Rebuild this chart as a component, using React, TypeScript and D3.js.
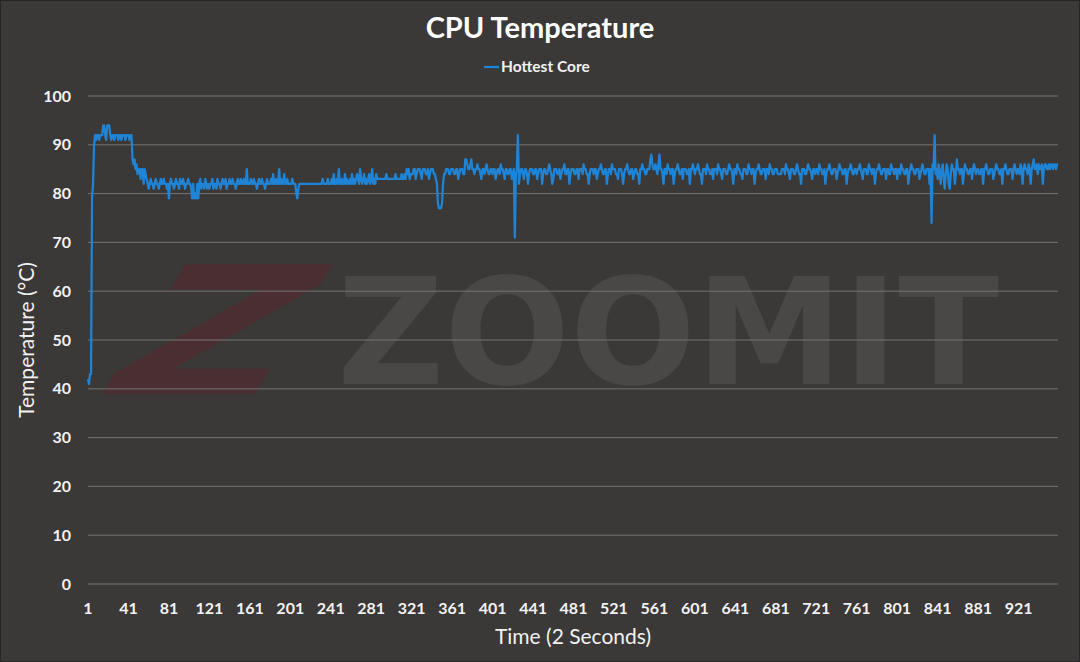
import React from "react";
import * as d3 from "d3";

// ---- Data (1 sample = 2 seconds) ----
const warmUp: number[] = [
  42,41,43,43,79,82,90,92,91,92, 92,91,92,92,92,94,94,92,91,94, 94,94,92,91,92,92,91,92,92,92, 91,92,92,91,92,92,92,91,92,92,
  92,91,92,92,87,86,87,85,86,84, 85,85,83,85,85,82,85,84,83,82, 81,82,83,82,82,81,82,83,82,82, 81,82,83,82,82,83,82,82,81,82,
];
const settle: number[] = [
  79,82,83,82,82,81,82,83,82,82, 81,83,82,82,83,82,81,82,82,83, 82,82,81,79,82,79,80,79,82,79, 82,83,81,82,82,81,83,82,81,82,
  81,82,82,83,81,82,82,81,83,82, 82,81,82,83,82,82,83,81,82,82, 83,82,82,83,82,82,81,82,83,82, 82,83,82,82,83,82,82,85,82,82,
  82,83,82,82,83,82,82,81,82,83, 82,82,83,82,82,81,82,83,82,82, 82,83,82,84,82,82,83,82,82,85, 82,83,82,82,84,82,82,83,82,82,
  82,82,83,82,82,82,80,79,81,82, 82,82,82,82,82,82,82,82,82,82, 82,82,82,82,82,82,82,82,82,82, 82,82,83,82,82,82,82,83,82,82,
  82,83,82,84,82,82,83,82,85,82, 82,83,82,82,84,82,83,82,82,83, 82,84,82,83,82,83,84,83,82,85, 83,82,83,84,82,83,82,83,84,82,
  83,85,82,83,82,84,83,83,83,83, 83,83,83,83,83,84,83,83,83,83, 83,83,83,83,84,83,83,83,83,83, 84,83,83,84,83,85,84,85,83,84,
];
const midLoad: number[] = [
  84,84,85,85,83,84,85,85,85,84, 83,85,85,85,84,84,85,83,84,85, 85,85,84,84,83,82,78,77,77,77, 78,82,84,84,85,85,85,84,84,85,
  85,85,84,84,85,85,83,84,85,85, 85,84,84,87,87,86,85,85,86,87, 85,85,84,85,85,86,85,85,84,83, 85,85,84,85,86,85,84,84,85,85,
  84,85,85,83,84,85,85,84,86,85, 85,84,83,85,85,84,84,85,85,83, 84,85,71,84,85,92,82,84,85,85, 84,83,85,85,84,82,84,85,85,85,
  84,84,85,85,83,84,85,85,85,82, 84,85,85,84,84,85,86,85,84,82, 83,85,85,85,84,84,85,83,84,85, 85,86,84,84,85,85,82,84,85,85,
  85,84,84,85,85,83,85,85,85,84, 86,85,85,84,84,82,84,85,85,85, 84,85,85,83,84,85,85,86,85,84, 84,85,85,82,84,85,85,84,86,85,
  85,85,84,84,83,85,85,85,84,82, 84,85,85,86,85,84,84,85,85,83, 84,85,85,84,84,82,85,85,86,85, 85,84,84,85,85,85,87,88,86,85,
  85,86,85,84,86,88,85,85,84,82, 85,85,84,86,85,85,84,85,85,82, 84,85,85,86,85,84,84,85,83,85, 85,85,84,84,85,82,85,85,86,85,
];
const lateLoad: number[] = [
  84,85,85,86,85,84,84,82,85,85, 85,84,86,85,85,84,84,85,83,85, 85,85,84,86,85,85,84,83,85,85, 85,84,84,85,86,85,85,84,82,85,
  85,84,86,85,85,84,84,83,85,85, 85,84,84,86,85,85,84,85,85,82, 84,85,85,86,85,84,84,85,85,85, 83,85,85,84,86,85,85,84,84,85,
  85,85,84,84,84,84,85,85,85,84, 86,85,85,84,83,85,85,85,84,84, 85,86,85,84,84,82,85,85,85,84, 84,85,86,85,85,84,83,85,85,84,
  85,85,84,86,85,85,84,84,85,82, 84,85,85,86,85,84,84,85,85,85, 83,84,85,86,85,85,84,84,85,85, 82,84,85,85,86,85,84,84,85,85,
  84,85,85,86,85,84,83,85,85,85, 84,84,86,85,85,84,85,85,82,84, 85,85,86,85,84,84,85,85,85,83, 85,85,84,84,86,85,85,84,85,85,
  83,85,85,84,86,85,85,84,84,85, 85,82,84,85,86,85,85,84,84,85, 85,85,83,84,85,86,85,84,84,85, 85,85,82,85,74,86,85,92,84,85,
  83,86,84,82,85,86,83,81,84,86, 85,82,81,84,86,85,85,82,84,87, 85,85,84,85,85,82,84,86,85,85, 84,84,85,85,83,85,86,85,84,85,
  85,84,84,85,85,82,85,85,86,85, 84,84,85,85,85,83,84,85,86,85, 85,84,84,85,82,85,85,86,85,84, 84,85,85,85,83,85,86,85,84,85,
  85,84,86,85,82,85,86,85,85,84, 86,85,82,85,86,87,85,85,86,84, 86,85,85,86,82,85,86,86,85,85, 86,85,86,86,85,86,86,85,86,86,
];
const hottestCore: number[] = [...warmUp, ...settle, ...midLoad, ...lateLoad];
const yTicks: number[] = [0, 10, 20, 30, 40, 50, 60, 70, 80, 90, 100];
const xTickStep = 40;
const titleText = "CPU Temperature";
const seriesName = "Hottest Core";
const xTitle = "Time (2 Seconds)";
const yTitle = "Temperature (°C)";

const W = 1080;
const H = 662;
const BG = "#3b3838";
const FONT = "Lato, 'Open Sans', sans-serif";
const LINE = "#1f84d6";

export default function App() {
  const n = hottestCore.length;
  const x = d3.scaleLinear().domain([1, n]).range([88, 1058]);
  const y = d3.scaleLinear().domain([0, 100]).range([584, 96]);
  const xTicks = d3.range(1, n + 1, xTickStep);
  const path = d3
    .line<number>()
    .x((_, i) => x(i + 1))
    .y((d) => y(d))(hottestCore) as string;

  return (
    <svg
      width={W}
      height={H}
      style={{ position: "absolute", left: 0, top: 0, display: "block" }}
      xmlns="http://www.w3.org/2000/svg"
    >
      <rect x={0} y={0} width={W} height={H} fill={BG} />
      <rect x={0.5} y={0.5} width={W - 1} height={H - 1} fill="none" stroke="#262424" strokeWidth={1} />

      {/* watermark */}
      <text
        transform="translate(178,394) skewX(-32) scale(1.35,1)"
        textAnchor="middle"
        fontFamily="'DejaVu Sans', sans-serif"
        fontWeight="bold"
        fontSize={178}
        fill="#4b2e32"
      >
        Z
      </text>
      <text
        x={668}
        y={384}
        textAnchor="middle"
        fontFamily="'DejaVu Sans', sans-serif"
        fontWeight="bold"
        fontSize={148}
        fill="#4a4747"
      >
        ZOOMIT
      </text>

      {/* grid */}
      {yTicks.map((t) => (
        <line key={t} x1={88} x2={1058} y1={y(t)} y2={y(t)} stroke="#767373" strokeWidth={1} />
      ))}

      {/* y tick labels */}
      {yTicks.map((t) => (
        <text
          key={"yl" + t}
          x={71}
          y={y(t)}
          dy="0.35em"
          textAnchor="end"
          fontFamily={FONT}
          fontWeight="bold"
          fontSize={16}
          fill="#f2f2f2"
        >
          {t}
        </text>
      ))}

      {/* x tick labels */}
      {xTicks.map((t) => (
        <text
          key={"xl" + t}
          x={x(t)}
          y={614}
          textAnchor="middle"
          fontFamily={FONT}
          fontWeight="bold"
          fontSize={16}
          fill="#f2f2f2"
        >
          {t}
        </text>
      ))}

      {/* series */}
      <path d={path} fill="none" stroke={LINE} strokeWidth={2.25} strokeLinejoin="round" />

      {/* title */}
      <text x={540} y={38} textAnchor="middle" fontFamily={FONT} fontWeight="bold" fontSize={29} fill="#ffffff">
        {titleText}
      </text>

      {/* legend */}
      <line x1={484} x2={499} y1={67} y2={67} stroke={LINE} strokeWidth={2.25} />
      <text x={501} y={72} fontFamily={FONT} fontWeight="bold" fontSize={15.5} fill="#f2f2f2">
        {seriesName}
      </text>

      {/* axis titles */}
      <text x={573} y={644} textAnchor="middle" fontFamily={FONT} fontSize={21} fill="#f2f2f2">
        {xTitle}
      </text>
      <text
        transform={`translate(34,340) rotate(-90)`}
        textAnchor="middle"
        fontFamily={FONT}
        fontSize={21}
        fill="#f2f2f2"
      >
        {yTitle}
      </text>
    </svg>
  );
}
